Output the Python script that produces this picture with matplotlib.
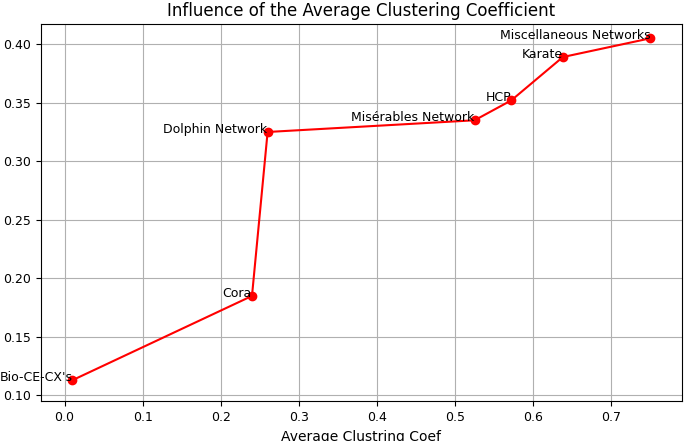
import matplotlib
matplotlib.use("Agg")
import matplotlib.pyplot as plt

# valeurs
coef = [0.01, 0.24, 0.26, 0.525, 0.572, 0.638, 0.75]
influence = [0.113, 0.185, 0.325, 0.335, 0.352, 0.389, 0.405]
noms = ["Bio-CE-CX's", "Cora", "Dolphin Network", "Misérables Network",
        "HCP", "Karate", "Miscellaneous Networks"]

fig, ax = plt.subplots(figsize=(6.85, 4.41), dpi=100)
ax.plot(coef, influence, 'ro-')
for x, y, n in zip(coef, influence, noms):
    ax.annotate(n, (x, y), xytext=(0, 2), textcoords='offset points',
                ha='right', va='center', fontsize=9)
ax.set_title("Influence of the Average Clustering Coefficient")
ax.set_xlabel("Average Clustring Coef")
ax.tick_params(labelsize=9)
ax.grid(True)
ax.set_xlim(-0.03, 0.79)
ax.set_ylim(0.095, 0.417)
plt.subplots_adjust(left=0.06, right=0.995, top=0.945, bottom=0.09)
plt.savefig("out.png")
